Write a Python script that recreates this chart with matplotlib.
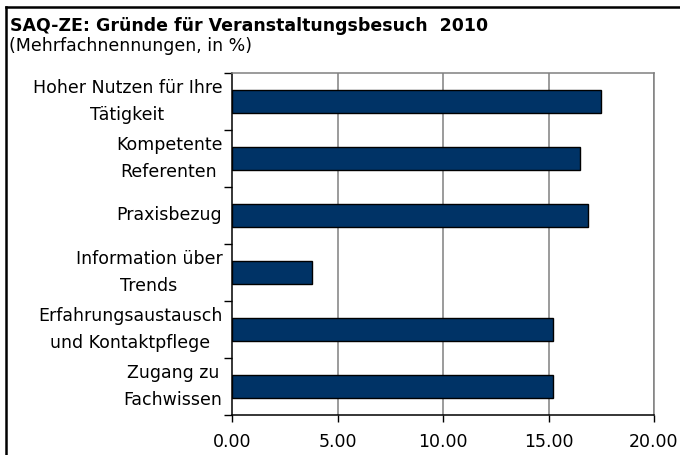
import matplotlib
matplotlib.use("Agg")
import matplotlib.pyplot as plt
from matplotlib.lines import Line2D
import numpy as np

# Daten
categories = [
    "Hoher Nutzen für Ihre\nTätigkeit",
    "Kompetente\nReferenten",
    "Praxisbezug",
    "Information über\nTrends",
    "Erfahrungsaustausch\nund Kontaktpflege",
    "Zugang zu\nFachwissen",
]
values = [17.5, 16.5, 16.85, 3.8, 15.2, 15.2]
x_ticks = [0, 5, 10, 15, 20]
x_ticklabels = ["0.00", "5.00", "10.00", "15.00", "20.00"]

W, H = 680, 455
fig = plt.figure(figsize=(W / 100, H / 100), dpi=100)
ax = fig.add_axes([232 / W, 1 - 415 / H, (654 - 232) / W, (415 - 73) / H])

y = np.arange(len(categories))
ax.barh(y, values, height=0.4, color="#003366", edgecolor="black", linewidth=1.0, zorder=3)

ax.set_xlim(0, 20)
ax.set_ylim(len(categories) - 0.5, -0.5)

# vertikale Gitterlinien
for t in x_ticks[1:]:
    ax.axvline(t, color="#808080", linewidth=1.1, zorder=1)

ax.set_xticks(x_ticks)
ax.set_xticklabels(x_ticklabels, fontsize=12.5)
ax.tick_params(axis="x", direction="out", length=5, width=1, color="black", pad=8)

ax.set_yticks(y)
ax.set_yticklabels(categories, fontsize=12.5, ha="right", va="center",
                   multialignment="center", linespacing=1.6)
ax.set_yticks(np.arange(len(categories) + 1) - 0.5, minor=True)
ax.tick_params(axis="y", which="major", length=0, pad=7)
ax.tick_params(axis="y", which="minor", direction="out", length=6, width=1, color="black")

ax.spines["top"].set_color("#808080")
ax.spines["top"].set_linewidth(1.1)
ax.spines["right"].set_color("#808080")
ax.spines["right"].set_linewidth(1.1)
ax.spines["left"].set_color("black")
ax.spines["bottom"].set_color("black")
ax.spines["left"].set_linewidth(1.1)
ax.spines["bottom"].set_linewidth(1.1)

# Titel
fig.text(10 / W, 1 - 31 / H, "SAQ-ZE: Gründe für Veranstaltungsbesuch  2010",
         fontsize=12.5, fontweight="bold", ha="left", va="baseline")
fig.text(9 / W, 1 - 51 / H, "(Mehrfachnennungen, in %)",
         fontsize=12.5, ha="left", va="baseline")

# Rahmen (links und oben)
fig.add_artist(Line2D([6 / W, 6 / W], [0, 1 - 7 / H], color="black", linewidth=1.8,
                      transform=fig.transFigure))
fig.add_artist(Line2D([6 / W, 1], [1 - 7 / H, 1 - 7 / H], color="black", linewidth=1.8,
                      transform=fig.transFigure))

fig.savefig("out.png", dpi=100)
